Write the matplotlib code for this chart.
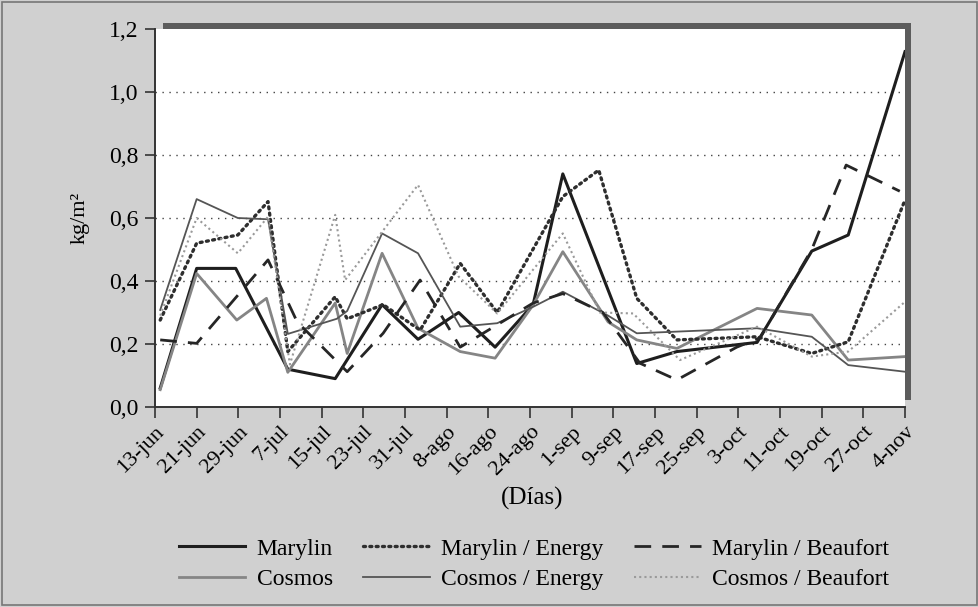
import numpy as np
import matplotlib
matplotlib.use("Agg")
from matplotlib import pyplot as plt
from matplotlib.patches import Rectangle

plt.rcParams["font.family"] = ["Liberation Serif", "DejaVu Serif"]

# Tick labels (every 8 days starting 13-jun)
tick_labels = ["13-jun", "21-jun", "29-jun", "7-jul", "15-jul", "23-jul", "31-jul",
               "8-ago", "16-ago", "24-ago", "1-sep", "9-sep", "17-sep", "25-sep",
               "3-oct", "11-oct", "19-oct", "27-oct", "4-nov"]

# Data: x in days after 13-jun, y in kg/m2
marylin_x = [1, 8, 15.5, 25.5, 34.6, 43.6, 50.5, 58.3, 65.3, 72.6, 78.3, 92.5, 100.2, 115.6, 126.1, 133.1, 144]
marylin_y = [0.06, 0.44, 0.44, 0.12, 0.09, 0.325, 0.215, 0.30, 0.19, 0.325, 0.74, 0.138, 0.176, 0.205, 0.495, 0.546, 1.128]

mar_energy_x = [1, 8, 15.9, 21.7, 25.5, 34.6, 36.9, 43.8, 50.9, 58.6, 65.7, 78.3, 85.2, 92.5, 100.2, 115.6, 126.1, 133.1, 144]
mar_energy_y = [0.276, 0.52, 0.546, 0.652, 0.176, 0.35, 0.28, 0.325, 0.244, 0.456, 0.30, 0.668, 0.752, 0.345, 0.213, 0.223, 0.17, 0.207, 0.657]

mar_beaufort_x = [1, 8, 21.7, 27.3, 36.9, 43.8, 50.9, 58.6, 72.6, 78.3, 86, 93.1, 100.2, 111.7, 116.2, 126.1, 132.7, 143]
mar_beaufort_y = [0.213, 0.202, 0.467, 0.27, 0.112, 0.234, 0.403, 0.19, 0.33, 0.36, 0.30, 0.139, 0.086, 0.19, 0.22, 0.50, 0.768, 0.685]

cosmos_x = [1, 8, 15.7, 21.4, 25.5, 34.6, 36.9, 43.6, 50.5, 58.6, 65.3, 72.6, 78.3, 87.0, 92.5, 100.2, 115.6, 126.1, 133.1, 144]
cosmos_y = [0.055, 0.424, 0.276, 0.345, 0.11, 0.33, 0.17, 0.488, 0.25, 0.176, 0.155, 0.324, 0.493, 0.27, 0.213, 0.186, 0.313, 0.292, 0.149, 0.16]

cos_energy_x = [1, 8, 15.9, 21.7, 25.5, 34.9, 36.9, 43.6, 50.5, 58.6, 65.7, 72.6, 78.3, 87, 92.5, 115.6, 126.1, 133.1, 144]
cos_energy_y = [0.308, 0.66, 0.60, 0.596, 0.232, 0.28, 0.305, 0.551, 0.488, 0.255, 0.266, 0.318, 0.366, 0.29, 0.234, 0.25, 0.223, 0.133, 0.112]

cos_beaufort_x = [1, 8, 15.9, 21.7, 25.9, 34.6, 36.5, 50.5, 58.3, 65.7, 78.3, 85.4, 91.8, 100.8, 115.6, 126.1, 133.1, 144]
cos_beaufort_y = [0.29, 0.60, 0.488, 0.604, 0.135, 0.61, 0.403, 0.705, 0.414, 0.297, 0.551, 0.30, 0.297, 0.149, 0.255, 0.16, 0.176, 0.334]

# Figure
fig = plt.figure(figsize=(9.79, 6.07), dpi=100, facecolor="#d0d0d0")
ax_rect = [155 / 979, 1 - 407 / 607, 750 / 979, 378 / 607]

# shadow behind the white plotting area
fig.patches.append(Rectangle((163 / 979, 1 - 400 / 607), 748 / 979, 377 / 607,
                             transform=fig.transFigure, facecolor="#5c5c5c",
                             edgecolor="none", zorder=0))
# thin border around picture
fig.patches.append(Rectangle((0.002, 0.003), 0.996, 0.994, transform=fig.transFigure,
                             facecolor="none", edgecolor="#777777", lw=1.2, zorder=0))

ax = fig.add_axes(ax_rect, zorder=2)
ax.set_facecolor("white")

l1, = ax.plot(marylin_x, marylin_y, color="#1e1e1e", lw=2.2, label="Marylin")
l2, = ax.plot(cosmos_x, cosmos_y, color="#858585", lw=2.0, label="Cosmos")
l3, = ax.plot(mar_energy_x, mar_energy_y, color="#2e2e2e", lw=2.4,
              linestyle=(0, (0.6, 1.3)), dash_capstyle="round", label="Marylin / Energy")
l4, = ax.plot(cos_energy_x, cos_energy_y, color="#555555", lw=1.3, label="Cosmos / Energy")
l5, = ax.plot(mar_beaufort_x, mar_beaufort_y, color="#262626", lw=2.0,
              linestyle=(0, (6, 4)), label="Marylin / Beaufort")
l6, = ax.plot(cos_beaufort_x, cos_beaufort_y, color="#9a9a9a", lw=1.5,
              linestyle=(0, (1, 1.5)), label="Cosmos / Beaufort")

# Axes
ax.set_xlim(0, 144)
ax.set_ylim(0, 1.2)
ax.set_xticks(np.arange(len(tick_labels)) * 8)
ax.set_xticklabels(tick_labels, rotation=45, ha="right", va="top",
                   rotation_mode="anchor", fontsize=16)
yt = np.arange(0, 1.21, 0.2)
ax.set_yticks(yt)
ax.set_yticklabels([f"{v:.1f}".replace(".", ",") for v in yt], fontsize=17)
ax.tick_params(axis="x", direction="out", length=8, width=1.2, color="#333333", pad=3)
ax.tick_params(axis="y", direction="out", length=7, width=1.2, color="#333333", pad=5)
for s in ["top", "right"]:
    ax.spines[s].set_visible(False)
for s in ["left", "bottom"]:
    ax.spines[s].set_linewidth(1.4)
    ax.spines[s].set_color("#333333")

for v in yt[1:-1]:
    ax.axhline(v, color="#444444", lw=1.0, linestyle=(0, (1, 4)), zorder=0.5)

ax.set_ylabel("kg/m²", fontsize=16, labelpad=14)
fig.text(532 / 979, 1 - 498 / 607, "(Días)", ha="center", va="center", fontsize=18)

# Legend
fig.legend([l1, l2, l3, l4, l5, l6],
           ["Marylin", "Cosmos", "Marylin / Energy", "Cosmos / Energy",
            "Marylin / Beaufort", "Cosmos / Beaufort"],
           ncol=3, loc="center", bbox_to_anchor=(534 / 979, 1 - 564 / 607),
           frameon=False, fontsize=17, handlelength=2.8, columnspacing=1.3,
           labelspacing=0.38, handletextpad=0.5)

fig.savefig("out.png", dpi=100, facecolor=fig.get_facecolor())
